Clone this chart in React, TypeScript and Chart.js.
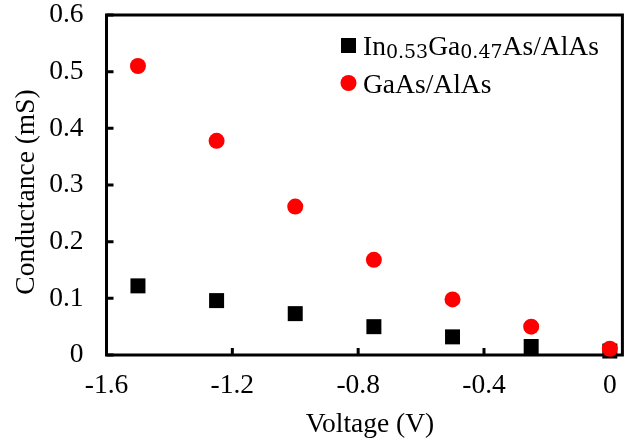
import React, { useEffect, useRef } from 'react';
import { Chart, registerables } from 'chart.js';

Chart.register(...registerables);

const voltages = [-1.5, -1.25, -1.0, -0.75, -0.5, -0.25, 0];
const ingaasValues = [0.122, 0.096, 0.073, 0.05, 0.032, 0.015, 0.007];
const gaasValues = [0.51, 0.378, 0.262, 0.168, 0.098, 0.05, 0.011];
const xTickValues = [-1.6, -1.2, -0.8, -0.4, 0];
const yTickValues = [0, 0.1, 0.2, 0.3, 0.4, 0.5, 0.6];
const xMin = -1.6;
const xMax = 0.04;
const yMin = 0;
const yMax = 0.6;
const xTitle = 'Voltage (V)';
const yTitle = 'Conductance (mS)';
// legend label segments: [text, isSubscript]
const ingaasLabel: [string, boolean][] = [
  ['In', false],
  ['0.53', true],
  ['Ga', false],
  ['0.47', true],
  ['As/AlAs', false],
];
const gaasLabel: [string, boolean][] = [['GaAs/AlAs', false]];

const FONT = "'Liberation Serif', 'Times New Roman', serif";
const SUB_FONT = "'DejaVu Serif', serif";
const FS = 27.5;

const fmt = (v: number) => (Math.abs(v) < 1e-9 ? '0' : v.toFixed(1));

export default function App() {
  const ref = useRef<HTMLCanvasElement | null>(null);

  useEffect(() => {
    document.body.style.margin = '0';
    const canvas = ref.current;
    if (!canvas) return;

    const framePlugin = {
      id: 'frame',
      beforeDatasetsDraw(chart: any) {
        const { ctx, chartArea } = chart;
        const { left, right, top, bottom } = chartArea;
        const xs = chart.scales.x;
        const ys = chart.scales.y;
        ctx.save();
        ctx.strokeStyle = '#000';
        ctx.lineWidth = 3;
        ctx.strokeRect(left, top, right - left, bottom - top);
        ctx.beginPath();
        yTickValues.forEach((v) => {
          const y = ys.getPixelForValue(v);
          ctx.moveTo(left, y);
          ctx.lineTo(left + 7, y);
        });
        xTickValues.forEach((v) => {
          const x = xs.getPixelForValue(v);
          ctx.moveTo(x, bottom);
          ctx.lineTo(x, bottom - 7);
        });
        ctx.stroke();
        ctx.restore();
      },
      afterDraw(chart: any) {
        const { ctx } = chart;
        ctx.save();
        ctx.textBaseline = 'alphabetic';
        ctx.textAlign = 'left';
        const drawLabel = (segs: [string, boolean][], x: number, baseline: number) => {
          let cx = x;
          segs.forEach(([t, sub]) => {
            ctx.font = sub ? `19px ${SUB_FONT}` : `${FS}px ${FONT}`;
            ctx.fillStyle = '#000';
            ctx.fillText(t, cx, sub ? baseline + 3 : baseline);
            cx += ctx.measureText(t).width;
          });
        };
        // legend: square marker
        ctx.fillStyle = '#000';
        ctx.fillRect(341, 38, 15, 15);
        drawLabel(ingaasLabel, 363, 55);
        // legend: circle marker
        ctx.fillStyle = '#ff0000';
        ctx.beginPath();
        ctx.arc(348.5, 83, 8, 0, Math.PI * 2);
        ctx.fill();
        drawLabel(gaasLabel, 363, 93);
        // axis titles
        ctx.fillStyle = '#000';
        ctx.font = `${FS}px ${FONT}`;
        ctx.textAlign = 'center';
        ctx.fillText(xTitle, 370, 432);
        ctx.translate(27, 192);
        ctx.rotate(-Math.PI / 2);
        ctx.textBaseline = 'middle';
        ctx.fillText(yTitle, 0, 0);
        ctx.restore();
      },
    };

    const chart = new Chart(canvas, {
      type: 'scatter',
      data: {
        datasets: [
          {
            label: 'In0.53Ga0.47As/AlAs',
            data: voltages.map((v, i) => ({ x: v, y: ingaasValues[i] })),
            pointStyle: 'rect',
            pointRadius: 10.6,
            pointHoverRadius: 10.6,
            backgroundColor: '#000',
            borderColor: '#000',
            borderWidth: 0,
            order: 1,
            clip: false as any,
          },
          {
            label: 'GaAs/AlAs',
            data: voltages.map((v, i) => ({ x: v, y: gaasValues[i] })),
            pointStyle: 'circle',
            pointRadius: 8,
            pointHoverRadius: 8,
            backgroundColor: '#ff0000',
            borderColor: '#ff0000',
            borderWidth: 0,
            order: 0,
            clip: false as any,
          },
        ],
      },
      options: {
        animation: false,
        responsive: false,
        maintainAspectRatio: false,
        layout: { padding: { left: 0, right: 8, top: 15, bottom: 0 } },
        plugins: {
          legend: { display: false },
          tooltip: { enabled: false },
        },
        scales: {
          x: {
            type: 'linear',
            min: xMin,
            max: xMax,
            afterBuildTicks: (s: any) => {
              s.ticks = xTickValues.map((v) => ({ value: v }));
            },
            afterFit: (s: any) => {
              s.height = 90;
              s.paddingLeft = 0;
              s.paddingRight = 0;
            },
            grid: { display: false, drawTicks: false },
            border: { display: false },
            ticks: {
              color: '#000',
              font: { family: FONT, size: FS },
              padding: 14,
              maxRotation: 0,
              autoSkip: false,
              callback: (v: any) => fmt(Number(v)),
            },
            title: { display: false, text: xTitle },
          },
          y: {
            type: 'linear',
            min: yMin,
            max: yMax,
            afterBuildTicks: (s: any) => {
              s.ticks = yTickValues.map((v) => ({ value: v }));
            },
            afterFit: (s: any) => {
              s.width = 106.5;
              s.paddingTop = 0;
              s.paddingBottom = 0;
            },
            grid: { display: false, drawTicks: false },
            border: { display: false },
            ticks: {
              color: '#000',
              font: { family: FONT, size: FS },
              padding: 23,
              autoSkip: false,
              callback: (v: any) => fmt(Number(v)),
            },
            title: { display: false, text: yTitle },
          },
        },
      },
      plugins: [framePlugin],
    });

    return () => chart.destroy();
  }, []);

  return (
    <div style={{ width: 633, height: 445 }}>
      <canvas ref={ref} width={633} height={445} style={{ display: 'block', width: 633, height: 445 }} />
    </div>
  );
}
